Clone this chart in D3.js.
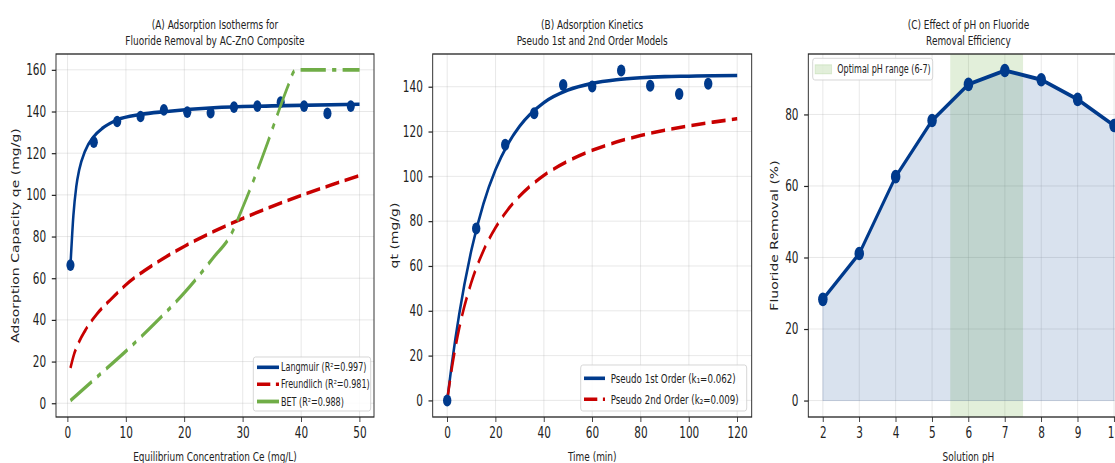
<!DOCTYPE html>
<html>
<head>
<meta charset="utf-8">
<script src="https://cdn.jsdelivr.net/npm/d3@7"></script>
<style>
  body { margin: 0; background: #fff; }
  svg { display: block; }
  text { font-family: "DejaVu Sans", sans-serif; fill: #222; }
</style>
</head>
<body>
<div id="chart"></div>
<script>
// ---- data ----
// (A) isotherms
var ceObs = [0.5, 4.5, 8.5, 12.5, 16.5, 20.5, 24.5, 28.5, 32.5, 36.5, 40.5, 44.5, 48.5];
var qeObs = [66.3, 125.3, 135.2, 137.6, 140.8, 139.7, 139.4, 142.1, 142.6, 144.5, 142.6, 139.1, 142.6];
var ceFit = [0.5, 1, 1.5, 2, 3, 4.5, 6, 8.5, 12.5, 17, 25, 35, 50];
var langmuirFit = [66, 90, 104, 112, 121, 128, 132, 136, 138.6, 140, 141.8, 142.7, 143.5];
var ceFreund = [0.5, 1, 2, 3, 5, 7.5, 10, 15, 20, 25, 30, 35, 40, 45, 50];
var freundlichFit = [16.9, 22.4, 29.6, 34.8, 42.7, 50.1, 56.9, 67.0, 75.3, 82.4, 88.7, 94.4, 99.7, 104.6, 109.2];
var ceBet = [0.5, 5, 10, 15, 20, 25, 28, 30, 32, 34, 36, 38, 38.8, 39.5, 50];
var betFit = [1.3, 12.5, 25, 38.5, 53, 70, 81, 94, 108, 123, 139, 154, 159.3, 160, 160];

// (B) kinetics
var tObs = [0, 12, 24, 36, 48, 60, 72, 84, 96, 108];
var qtObs = [0, 76.7, 114.1, 128.2, 140.8, 140.1, 147.2, 140.4, 136.8, 141.3];
var tFit = [0, 2, 5, 10, 15, 20, 25, 30, 40, 50, 60, 70, 80, 90, 100, 110, 120];
var pfoFit = [0, 16.9, 38.7, 67.0, 87.8, 103.0, 114.2, 122.4, 132.9, 138.5, 141.5, 143.1, 144.0, 144.5, 144.7, 144.9, 145];
var psoFit = [0, 14.9, 32.3, 52.7, 66.8, 77.1, 85.0, 91.2, 100.4, 106.8, 111.6, 115.3, 118.2, 120.6, 122.5, 124.2, 125.7];

// (C) pH effect
var pH = [2, 3, 4, 5, 6, 7, 8, 9, 10];
var removal = [28.3, 41.1, 62.6, 78.3, 88.4, 92.3, 89.7, 84.2, 76.9];
var optimalRange = [5.5, 7.5];

var ticksA = {x: [0, 10, 20, 30, 40, 50], y: [0, 20, 40, 60, 80, 100, 120, 140, 160]};
var ticksB = {x: [0, 20, 40, 60, 80, 100, 120], y: [0, 20, 40, 60, 80, 100, 120, 140]};
var ticksC = {x: [2, 3, 4, 5, 6, 7, 8, 9, 10], y: [0, 20, 40, 60, 80]};

// ---- layout ----
// the reference is squeezed horizontally, so draw wide and squash with the viewBox
var S = 0.7;
var W = 1115 / S, H = 463;
function ux(px) { return px / S; }

var axTop = 54, axBottom = 417;
var BLUE = '#003a8c', RED = '#c80000', GREEN = '#70ad47';

var svg = d3.select('#chart').append('svg')
  .attr('width', 1115).attr('height', H)
  .attr('viewBox', '0 0 ' + W + ' ' + H)
  .attr('preserveAspectRatio', 'none');

function makePanel(left, right, xDomain, yDomain, ticks) {
  var g = svg.append('g');
  var x = d3.scaleLinear().domain(xDomain).range([ux(left), ux(right)]);
  var y = d3.scaleLinear().domain(yDomain).range([axBottom, axTop]);
  var grid = g.append('g');
  grid.selectAll('line.gx').data(ticks.x).join('line').attr('class', 'gx')
    .attr('x1', function(d){ return x(d); }).attr('x2', function(d){ return x(d); })
    .attr('y1', axTop).attr('y2', axBottom);
  grid.selectAll('line.gy').data(ticks.y).join('line').attr('class', 'gy')
    .attr('x1', ux(left)).attr('x2', ux(right))
    .attr('y1', function(d){ return y(d); }).attr('y2', function(d){ return y(d); });
  grid.selectAll('line').attr('stroke', '#b0b0b0').attr('stroke-opacity', 0.35).attr('stroke-width', 1);
  return {g: g, x: x, y: y, left: left, right: right, ticks: ticks};
}

function finishPanel(p, title, xLabel, yLabel, yLabelX) {
  var g = p.g;
  g.append('rect')
    .attr('x', ux(p.left)).attr('y', axTop)
    .attr('width', ux(p.right) - ux(p.left)).attr('height', axBottom - axTop)
    .attr('fill', 'none').attr('stroke', '#222').attr('stroke-width', 1.3);

  var xa = g.append('g').attr('transform', 'translate(0,' + axBottom + ')')
    .call(d3.axisBottom(p.x).tickValues(p.ticks.x).tickSize(5).tickPadding(5).tickFormat(d3.format('d')));
  var ya = g.append('g').attr('transform', 'translate(' + ux(p.left) + ',0)')
    .call(d3.axisLeft(p.y).tickValues(p.ticks.y).tickSize(6).tickPadding(8).tickFormat(d3.format('d')));
  [xa, ya].forEach(function(a) {
    a.select('.domain').remove();
    a.selectAll('line').attr('stroke', '#222').attr('stroke-width', 1.2);
    a.selectAll('text').attr('font-size', 15).attr('fill', '#222')
      .style('font-family', '"DejaVu Sans", sans-serif');
  });

  var cx = (ux(p.left) + ux(p.right)) / 2;
  var t = g.append('text').attr('text-anchor', 'middle').attr('font-size', 12.8);
  t.append('tspan').attr('x', cx).attr('y', 29.5).text(title[0]);
  t.append('tspan').attr('x', cx).attr('y', 45).text(title[1]);

  g.append('text').attr('x', cx).attr('y', 461).attr('text-anchor', 'middle')
    .attr('font-size', 12.8).text(xLabel);
  g.append('text')
    .attr('transform', 'translate(' + ux(yLabelX) + ',' + ((axTop + axBottom) / 2) + ') rotate(-90)')
    .attr('text-anchor', 'middle').attr('dy', '0.35em')
    .attr('font-size', 14).text(yLabel);
}

function legend(g, box, rows, rowY, handleX, textX, fontSize) {
  g.append('rect')
    .attr('x', ux(box[0])).attr('y', box[1])
    .attr('width', ux(box[2]) - ux(box[0])).attr('height', box[3] - box[1])
    .attr('rx', 3).attr('fill', '#fff').attr('fill-opacity', 0.85)
    .attr('stroke', '#cfcfcf').attr('stroke-width', 1);
  rows.forEach(function(r, i) {
    if (r.patch) {
      g.append('rect').attr('x', ux(handleX[0])).attr('y', rowY[i] - 4.5)
        .attr('width', ux(handleX[1]) - ux(handleX[0])).attr('height', 9)
        .attr('fill', r.color).attr('fill-opacity', 0.2)
        .attr('stroke', r.color).attr('stroke-opacity', 0.2);
    } else {
      g.append('line').attr('x1', ux(handleX[0])).attr('x2', ux(handleX[1]))
        .attr('y1', rowY[i]).attr('y2', rowY[i])
        .attr('stroke', r.color).attr('stroke-width', r.width)
        .attr('stroke-dasharray', r.dash || null);
    }
    g.append('text').attr('x', ux(textX)).attr('y', rowY[i]).attr('dy', '0.35em')
      .attr('font-size', fontSize).text(r.label);
  });
}

function path(g, xs, ys, p, color, width, dash) {
  var pts = xs.map(function(v, i) { return [v, ys[i]]; });
  g.append('path').datum(pts)
    .attr('d', d3.line().x(function(d){ return p.x(d[0]); }).y(function(d){ return p.y(d[1]); })
      .curve(d3.curveMonotoneX))
    .attr('fill', 'none').attr('stroke', color).attr('stroke-width', width)
    .attr('stroke-dasharray', dash || null);
}

function dots(g, xs, ys, p, r) {
  g.selectAll(null).data(xs).join('circle')
    .attr('cx', function(d){ return p.x(d); })
    .attr('cy', function(d, i){ return p.y(ys[i]); })
    .attr('r', r).attr('fill', BLUE);
}

// ---- (A) ----
var pA = makePanel(56, 374, [-1.975, 52.475], [-6.6, 167.6], ticksA);
path(pA.g, ceFit, langmuirFit, pA, BLUE, 3.6);
dots(pA.g, ceObs, qeObs, pA, 5.8);
path(pA.g, ceFreund, freundlichFit, pA, RED, 3.6, '20,8');
path(pA.g, ceBet, betFit, pA, GREEN, 3.8, '36,9,6,9');
legend(pA.g, [253.3, 357, 370.7, 411], [
  {label: 'Langmuir (R\u00b2=0.997)', color: BLUE, width: 3.6},
  {label: 'Freundlich (R\u00b2=0.981)', color: RED, width: 3.6, dash: '19,8'},
  {label: 'BET (R\u00b2=0.988)', color: GREEN, width: 3.8}
], [367.3, 384.3, 401.5], [257, 279], 281, 11.5);
finishPanel(pA, ['(A) Adsorption Isotherms for', 'Fluoride Removal by AC-ZnO Composite'],
  'Equilibrium Concentration Ce (mg/L)', 'Adsorption Capacity qe (mg/g)', 16);

// ---- (B) ----
var pB = makePanel(432.7, 751.7, [-6, 126], [-7.4, 154.6], ticksB);
path(pB.g, tFit, pfoFit, pB, BLUE, 3.6);
path(pB.g, tFit, psoFit, pB, RED, 3.6, '20,9');
dots(pB.g, tObs, qtObs, pB, 6);
legend(pB.g, [580.7, 365, 746.7, 411], [
  {label: 'Pseudo 1st Order (k\u2081=0.062)', color: BLUE, width: 3.6},
  {label: 'Pseudo 2nd Order (k\u2082=0.009)', color: RED, width: 3.6, dash: '19,8'}
], [378.3, 399.3], [584, 605], 610.7, 12.4);
finishPanel(pB, ['(B) Adsorption Kinetics', 'Pseudo 1st and 2nd Order Models'],
  'Time (min)', 'qt (mg/g)', 395);

// ---- (C) ----
var pC = makePanel(808.3, 1128.6, [1.6, 10.4], [-4.6, 96.9], ticksC);
pC.g.append('rect')
  .attr('x', pC.x(optimalRange[0])).attr('y', axTop)
  .attr('width', pC.x(optimalRange[1]) - pC.x(optimalRange[0])).attr('height', axBottom - axTop)
  .attr('fill', GREEN).attr('fill-opacity', 0.2);
var areaPts = pH.map(function(v, i) { return [v, removal[i]]; });
pC.g.append('path').datum(areaPts)
  .attr('d', d3.area().x(function(d){ return pC.x(d[0]); })
    .y0(pC.y(0)).y1(function(d){ return pC.y(d[1]); }))
  .attr('fill', BLUE).attr('fill-opacity', 0.15)
  .attr('stroke', BLUE).attr('stroke-opacity', 0.15);
pC.g.append('path').datum(areaPts)
  .attr('d', d3.line().x(function(d){ return pC.x(d[0]); }).y(function(d){ return pC.y(d[1]); }))
  .attr('fill', 'none').attr('stroke', BLUE).attr('stroke-width', 4);
dots(pC.g, pH, removal, pC, 6.8);
legend(pC.g, [812.7, 58.3, 932.7, 80], [
  {label: 'Optimal pH range (6-7)', color: GREEN, patch: true}
], [69.3], [815, 831.7], 837.3, 11.5);
finishPanel(pC, ['(C) Effect of pH on Fluoride', 'Removal Efficiency'],
  'Solution pH', 'Fluoride Removal (%)', 775);
</script>
</body>
</html>
